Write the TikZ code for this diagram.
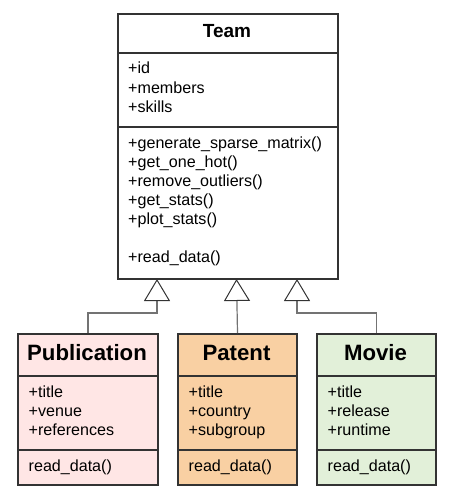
\documentclass[tikz,border=0pt]{standalone}
\usepackage{fontspec}
\setmainfont{Liberation Sans}
\usetikzlibrary{arrows.meta}
\definecolor{pubfill}{HTML}{FFE6E5}
\definecolor{patfill}{HTML}{F9D0A3}
\definecolor{movfill}{HTML}{E2F0D9}
\definecolor{edge}{HTML}{333333}
\begin{document}
\begin{tikzpicture}[x=1pt,y=-1pt,
  box/.style={draw=edge, line width=2pt, anchor=north west, inner sep=0pt, rectangle},
  sep/.style={draw=edge, line width=2pt},
  txt/.style={anchor=base west, inner sep=0pt, font=\fontsize{16.1}{19}\selectfont},
  ttl/.style={anchor=base, inner sep=0pt, font=\fontsize{22.2}{26}\selectfont\bfseries},
  conn/.style={draw=black!55, line width=1.2pt, -{Triangle[open,length=22pt,width=26pt,line width=1pt,color=edge,fill=white]}}]
\useasboundingbox (0,0) rectangle (460,503);
% Team
\node[box, fill=white, minimum width=220pt, minimum height=265pt] (team) at (117,13) {};
\draw[sep] (117,53) -- (337,53);
\draw[sep] (117,127) -- (337,127);
\node[ttl, font=\fontsize{19}{23}\selectfont\bfseries] (teamt) at (227,37.5) {Team};
\node[txt] (ta1) at (128,74) {+id};
\node[txt] (ta2) at (128,93) {+members};
\node[txt] (ta3) at (128,112) {+skills};
\node[txt] (tm1) at (128,148) {+generate\_sparse\_matrix()};
\node[txt] (tm2) at (128,167) {+get\_one\_hot()};
\node[txt] (tm3) at (128,186) {+remove\_outliers()};
\node[txt] (tm4) at (128,205) {+get\_stats()};
\node[txt] (tm5) at (128,224) {+plot\_stats()};
\node[txt] (tm6) at (128,262) {+read\_data()};
% Publication
\node[box, fill=pubfill, minimum width=140pt, minimum height=151pt] (pub) at (17,333) {};
\draw[sep] (17,376) -- (157,376);
\draw[sep] (17,450) -- (157,450);
\node[ttl] (pubt) at (87,360) {Publication};
\node[txt] (pa1) at (28.5,397) {+title};
\node[txt] (pa2) at (28.5,416) {+venue};
\node[txt] (pa3) at (28.5,435) {+references};
\node[txt] (pm1) at (28.5,471) {read\_data()};
% Patent
\node[box, fill=patfill, minimum width=119pt, minimum height=151pt] (pat) at (177,333) {};
\draw[sep] (177,376) -- (296,376);
\draw[sep] (177,450) -- (296,450);
\node[ttl] (patt) at (236.5,360) {Patent};
\node[txt] (qa1) at (188.5,397) {+title};
\node[txt] (qa2) at (188.5,416) {+country};
\node[txt] (qa3) at (188.5,435) {+subgroup};
\node[txt] (qm1) at (188.5,471) {read\_data()};
% Movie
\node[box, fill=movfill, minimum width=119pt, minimum height=151pt] (mov) at (316,333) {};
\draw[sep] (316,376) -- (435,376);
\draw[sep] (316,450) -- (435,450);
\node[ttl] (movt) at (375.5,360) {Movie};
\node[txt] (ma1) at (327.5,397) {+title};
\node[txt] (ma2) at (327.5,416) {+release};
\node[txt] (ma3) at (327.5,435) {+runtime};
\node[txt] (mm1) at (327.5,471) {read\_data()};
% attachment points on Team
\coordinate (tA) at (157,279);
\coordinate (tB) at (236.5,279);
\coordinate (tC) at (297,279);
\coordinate (jA) at (157,313);
\coordinate (jC) at (297,313);
% connectors
\draw[conn] (pub.north) |- (jA) -- (tA);
\draw[conn] (pat.north) -- (tB);
\draw[conn] (mov.north) |- (jC) -- (tC);
\end{tikzpicture}
\end{document}
